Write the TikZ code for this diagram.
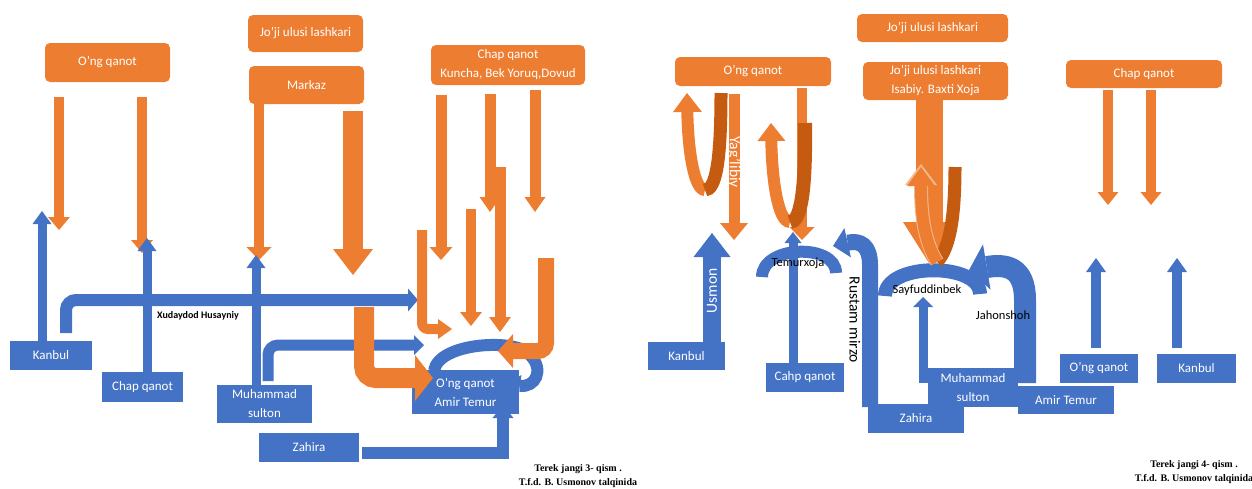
\documentclass[tikz,border=0pt]{standalone}
\usepackage{fontspec}
\setmainfont{Carlito}
\newfontfamily\capfont{Liberation Serif}
\usetikzlibrary{arrows.meta}

\definecolor{orng}{HTML}{ED7D31}
\definecolor{blu}{HTML}{4472C4}
\definecolor{dorng}{HTML}{C55A11}
\newcommand\boxfont{\fontsize{13}{19}\selectfont}
\newcommand\lblfont{\fontsize{12.5}{15}\selectfont}
\newcommand\rotfont{\fontsize{15.5}{18}\selectfont}

\begin{document}
\begin{tikzpicture}[x=1pt,y=-1pt,
  obox/.style={rectangle, rounded corners=5pt, fill=orng, text=white, align=center, inner sep=0pt, font=\boxfont},
  bbox/.style={rectangle, fill=blu, text=white, align=center, inner sep=0pt, font=\boxfont},
  wh/.style 2 args={minimum width=#1pt, minimum height=#2pt},
  oarr/.style n args={3}{draw=orng, line width=#1pt, -{Triangle[width=#2pt, length=#3pt, line width=0pt]}},
  barr/.style n args={3}{draw=blu, line width=#1pt, -{Triangle[width=#2pt, length=#3pt, line width=0pt]}},
  lbl/.style={font=\lblfont, inner sep=0pt},
  capt/.style={font=\capfont\bfseries\fontsize{10}{14}\selectfont, align=center, inner sep=0pt}]

\useasboundingbox (0,0) rectangle (1252,488);

% Terek jangi 3
\node[obox,wh={125}{39}] (oOng) at (107.5,62.5) {O’ng qanot};
\node[obox,wh={115}{37}] (oJoji) at (305.5,33.5) {Jo’ji ulusi lashkari};
\node[obox,wh={115}{38}] (oMarkaz) at (306.5,85) {Markaz};
\node[obox,wh={154}{40}] (oChap) at (508,65) {Chap qanot\\Kuncha, Bek Yoruq,Dovud};
\node[bbox,wh={82}{29}] (bKanbul) at (51,355.5) {Kanbul};
\node[bbox,wh={81}{30}] (bChap) at (142.5,387) {Chap qanot};
\node[bbox,wh={95}{38}] (bMuh) at (264.5,404) {Muhammad\\sulton};
\node[bbox,wh={100}{29}] (bZahira) at (309,447.5) {Zahira};
\node[bbox,wh={107}{44}] (bAmir) at (465.5,392) {O’ng qanot\\Amir Temur};

% Terek jangi 4
\node[obox,wh={151}{28}] (rJoji) at (932.5,28) {Jo’ji ulusi lashkari};
\node[obox,wh={156}{29}] (rOng) at (753,71.5) {O’ng qanot};
\node[obox,wh={145}{38}] (rIsabiy) at (935.5,81) {Jo’ji ulusi lashkari\\Isabiy. Baxti Xoja};
\node[obox,wh={156}{28}] (rChap) at (1144,74) {Chap qanot};
\node[bbox,wh={77}{28}] (rKanbul) at (686.5,356) {Kanbul};
\node[bbox,wh={78}{29}] (rCahp) at (805,377.5) {Cahp qanot};
\node[bbox,wh={96}{29}] (rZahira) at (916,418.5) {Zahira};
\node[bbox,wh={90}{39}] (rMuh) at (973,387.5) {Muhammad\\sulton};
\node[bbox,wh={96}{28}] (rAmir) at (1066,400) {Amir Temur};
\node[bbox,wh={78}{29}] (rOng2) at (1099,368.5) {O’ng qanot};
\node[bbox,wh={79}{29}] (rKanbul2) at (1196.5,368.5) {Kanbul};

% blue moves, left
\coordinate (x1) at (66,333); \coordinate (x2) at (418,300);
\draw[barr={12}{23}{10}, rounded corners=10pt] (x1) |- (x2);
\coordinate (m1) at (268,381); \coordinate (m2) at (424,345);
\draw[barr={11}{20}{10}, rounded corners=10pt] (m1) |- (m2);
\coordinate (z1) at (362,453); \coordinate (z2) at (503,405);
\draw[barr={12}{21}{13}] (z1) -| (z2);
\coordinate (l1) at (434,371); \coordinate (l2) at (508,384);
\draw[barr={12}{22}{12}] (l1) .. controls (438,342) and (518,338) .. (530,355)
  .. controls (545,370) and (535,388) .. (l2);

% blue moves, right
\coordinate (us) at (712,233);
\draw[barr={18}{37}{24}] (rKanbul.north -| us) -- (us);
\coordinate (ct) at (793,232);
\draw[barr={9}{17}{11}] (rCahp.north -| ct) -- (ct);
\draw[blu, line width=12pt] (762,277) .. controls (762,245) and (836,243) .. (836,273);
\coordinate (ru1) at (870,407); \coordinate (ru2) at (833,246);
\draw[barr={16}{30}{15}] (ru1) -- (870,265) .. controls (870,245) and (860,240) .. (ru2);
\draw[blu, line width=14pt] (885,296) .. controls (885,262) and (980,262) .. (980,294);
\coordinate (mu1) at (923,383); \coordinate (mu2) at (923,297);
\draw[barr={9}{20}{10}] (mu1) -- (mu2);
\coordinate (ja1) at (1025,383); \coordinate (ja2) at (969,270);
\draw[barr={22}{46}{18}] (ja1) -- (1025,300) .. controls (1025,266) and (1005,264) .. (ja2);
\foreach \x [count=\i] in {1096,1177} {
  \coordinate (ku\i) at (\x,348); \coordinate (kt\i) at (\x,258);
  \draw[barr={10}{20}{14}] (ku\i) -- (kt\i);
}

% orange moves
\foreach \x/\ya/\yb/\w/\hw/\hl [count=\i] in {59/97/230/10/22/13, 142/97/253/10/22/13,
    259/97/260/10/25/13, 353/111/275/20/40/26, 441/95/260/11/23/13, 490/94/212/11/21/15,
    535/90/212/11/21/15, 471/209/326/10/22/14, 500/167/332/11/22/15,
    1108/90/205/10/21/13, 1151/90/205/10/21/13, 734/94/240/11/28/17, 802/88/240/10/25/13} {
  \coordinate (os\i) at (\x,\ya); \coordinate (ot\i) at (\x,\yb);
  \draw[oarr={\w}{\hw}{\hl}] (os\i) -- (ot\i);
}
\coordinate (k1) at (422,230); \coordinate (k2) at (452,329);
\draw[oarr={10}{20}{14}, rounded corners=6pt] (k1) |- (k2);
\coordinate (j1) at (546,258); \coordinate (j2) at (498,351);
\draw[oarr={16}{34}{15}, rounded corners=8pt] (j1) |- (j2);
\coordinate (h1) at (364,307); \coordinate (h2) at (433,378);
\draw[oarr={20}{46}{18}, rounded corners=12pt] (h1) |- (h2);

% u-turns
\coordinate (u1a) at (721,93); \coordinate (u1b) at (705,190); \coordinate (u1c) at (687,93);
\draw[oarr={12}{29}{19}] (u1b) .. controls (694,190) and (688,150) .. (u1c);
\draw[dorng, line width=13pt] (u1a) .. controls (721,160) and (716,190) .. (u1b);
\coordinate (u2a) at (805,123); \coordinate (u2b) at (790,222); \coordinate (u2c) at (771,123);
\draw[oarr={12}{28}{18}] (u2b) .. controls (778,222) and (772,180) .. (u2c);
\draw[dorng, line width=14pt] (u2a) .. controls (806,195) and (800,222) .. (u2b);
\coordinate (s1) at (929,100); \coordinate (s2) at (929,263);
\draw[oarr={27}{52}{41}] (s1) -- (s2);
\coordinate (s3) at (955,167); \coordinate (s4) at (937,262); \coordinate (s5) at (921,167);
\coordinate (s6) at (921,164);
\draw[dorng, line width=13pt] (s3) .. controls (955,225) and (948,250) .. (s4);
\draw[oarr={14}{32}{21}, draw=orng!55!white] (s4) .. controls (924,240) and (921,215) .. (s6);
\draw[oarr={12}{28}{19}] (s4) .. controls (924,240) and (921,215) .. (s5);

% blue up arrows on top
\foreach \b/\x/\y [count=\i] in {bKanbul/42/211, bChap/147/238, bMuh/256/255} {
  \coordinate (bt\i) at (\x,\y);
  \draw[barr={9}{19}{13}] (\b.north -| bt\i) -- (bt\i);
}

% labels
\node[lbl, font=\bfseries\fontsize{10}{12}\selectfont] (xh) at (198,316) {Xudaydod Husayniy};
\node[lbl] (tx) at (798,263) {Temurxoja};
\node[lbl] (sb) at (927,290) {Sayfuddinbek};
\node[lbl] (jh) at (1003,315) {Jahonshoh};
\node[lbl, font=\rotfont, rotate=-90] (rm) at (855,320) {Rustam mirzo};
\node[lbl, font=\rotfont, rotate=90, text=white] (um) at (712,291) {Usmon};
\node[lbl, font=\rotfont, rotate=-90, text=white] (yl) at (734,162) {Yag’libiy};

\node[capt] (c3) at (578,476) {Terek jangi 3- qism .\\T.f.d. B. Usmonov talqinida};
\node[capt] (c4) at (1194,472) {Terek jangi 4- qism .\\T.f.d. B. Usmonov talqinida};

\end{tikzpicture}
\end{document}
